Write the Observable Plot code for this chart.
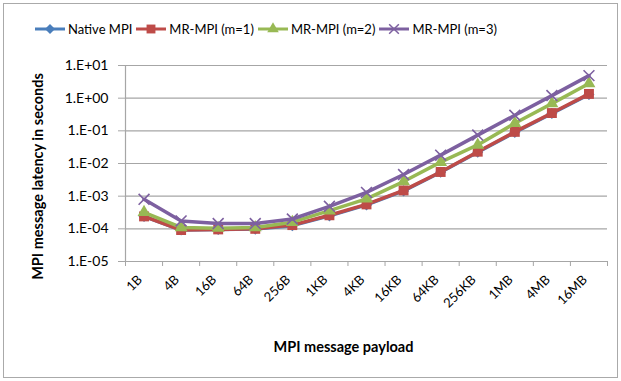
<!DOCTYPE html>
<html>
<head>
<meta charset="utf-8">
<script src="https://cdn.jsdelivr.net/npm/d3@7"></script>
<script src="https://cdn.jsdelivr.net/npm/@observablehq/plot@0.6"></script>
<style>
  html, body { margin: 0; padding: 0; background: #fff; }
  #wrap { position: relative; width: 621px; height: 381px; font-family: Lato, "Liberation Sans", sans-serif; }
  #border { position: absolute; left: 3px; top: 3px; width: 615px; height: 375px; box-sizing: border-box; border: 1.5px solid #aaaaaa; }
  #legend { position: absolute; left: 35px; top: 21px; display: flex; align-items: center; font-size: 13px; color: #000; white-space: nowrap; }
  #legend .item { display: flex; align-items: center; margin-right: 4px; }
  #legend svg { margin-right: 3px; }
  #chart { position: absolute; left: 0; top: 50px; }
</style>
</head>
<body>
<div id="wrap">
  <div id="border"></div>
  <div id="legend"></div>
  <div id="chart"></div>
</div>
<script>
const categories = ["1B","4B","16B","64B","256B","1KB","4KB","16KB","64KB","256KB","1MB","4MB","16MB"];
const seriesNames = ["Native MPI","MR-MPI (m=1)","MR-MPI (m=2)","MR-MPI (m=3)"];
const nativeMPI = [2.4e-4, 9.2e-5, 9.5e-5, 9.8e-5, 1.25e-4, 2.5e-4, 5.4e-4, 1.45e-3, 5.4e-3, 2.2e-2, 0.09, 0.34, 1.3];
const mrMPI1    = [2.4e-4, 9.2e-5, 9.6e-5, 1.0e-4, 1.3e-4, 2.6e-4, 5.6e-4, 1.5e-3, 5.5e-3, 2.3e-2, 0.093, 0.35, 1.35];
const mrMPI2    = [3.2e-4, 1.1e-4, 1.05e-4, 1.1e-4, 1.6e-4, 3.6e-4, 8.3e-4, 2.8e-3, 1.1e-2, 3.7e-2, 0.17, 0.68, 2.8];
const mrMPI3    = [8.0e-4, 1.75e-4, 1.45e-4, 1.45e-4, 2.0e-4, 4.9e-4, 1.3e-3, 4.6e-3, 1.8e-2, 7.4e-2, 0.30, 1.2, 4.9];
const yTicks = [1e-5, 1e-4, 1e-3, 1e-2, 1e-1, 1e0, 1e1];
const colors = ["#4A7EBB", "#BE4B48", "#98B954", "#7D60A0"];
const symbols = ["diamond2", "square", "triangle", "times"];
const symbolR = [5, 5.6, 4.8, 5];

const seriesValues = [nativeMPI, mrMPI1, mrMPI2, mrMPI3];
const table = [];
seriesNames.forEach((s, k) => seriesValues[k].forEach((v, i) => table.push({series: s, k, i, cat: categories[i], v})));

const fmt = d => { const e = Math.round(Math.log10(d)); return "1.E" + (e < 0 ? "-" : "+") + String(Math.abs(e)).padStart(2, "0"); };

const marks = [
  Plot.gridY({ticks: yTicks, stroke: "#a6a6a6", strokeOpacity: 1, strokeWidth: 1.2}),
  Plot.axisY({ticks: yTicks, tickFormat: fmt, tickSize: 7, tickPadding: 10, stroke: "#a6a6a6", fill: "#000", fontSize: 14, label: null}),
  Plot.ruleX([-0.5], {stroke: "#a6a6a6", strokeWidth: 1.2}),
  Plot.axisX({ticks: d3.range(-0.5, categories.length, 1), tickFormat: () => "", tickSize: 5, stroke: "#a6a6a6", label: null}),
  Plot.axisX({ticks: d3.range(categories.length), tickFormat: i => categories[i], tickSize: 0, tickRotate: -45, tickPadding: 16, dx: -4, fontSize: 13, fill: "#000", label: null}),
  Plot.text(["MPI message latency in seconds"], {frameAnchor: "left", textAnchor: "middle", dx: -87, dy: 13, rotate: -90, fontSize: 14.5, fontWeight: "bold", fill: "#000"}),
  Plot.text(["MPI message payload"], {frameAnchor: "bottom", dx: -23, dy: 90, fontSize: 14.5, fontWeight: "bold", fill: "#000"})
];
seriesNames.forEach((s, k) => {
  const d = table.filter(r => r.k === k);
  marks.push(Plot.line(d, {x: "i", y: "v", stroke: colors[k], strokeWidth: 3.5}));
  const strokeSym = symbols[k] === "times";
  marks.push(Plot.dot(d, strokeSym
    ? {x: "i", y: "v", symbol: () => symbols[k], r: symbolR[k], stroke: colors[k], strokeWidth: 1.6, fill: "none"}
    : {x: "i", y: "v", symbol: () => symbols[k], r: symbolR[k], fill: colors[k], stroke: "none"}));
});

const chart = Plot.plot({
  width: 621,
  height: 331,
  marginTop: 15,
  marginBottom: 120,
  marginLeft: 125,
  marginRight: 14,
  style: {fontFamily: "Lato, 'Liberation Sans', sans-serif", background: "transparent", overflow: "visible"},
  x: {type: "linear", domain: [-0.5, categories.length - 0.5], axis: null},
  y: {type: "log", domain: [1e-5, 10], axis: null},
  symbol: {type: "identity"},
  marks
});
document.getElementById("chart").appendChild(chart);

// legend
const legend = d3.select("#legend");
seriesNames.forEach((s, k) => {
  const item = legend.append("div").attr("class", "item");
  const svg = item.append("svg").attr("width", 30).attr("height", 14);
  svg.append("line").attr("x1", 0).attr("x2", 30).attr("y1", 7).attr("y2", 7).attr("stroke", colors[k]).attr("stroke-width", 3);
  const symMap = {diamond2: d3.symbolDiamond2, square: d3.symbolSquare, triangle: d3.symbolTriangle, times: d3.symbolTimes};
  const size = Math.PI * symbolR[k] * symbolR[k] * 0.8;
  const p = svg.append("path").attr("transform", "translate(15,7)").attr("d", d3.symbol(symMap[symbols[k]], size)());
  if (symbols[k] === "times") p.attr("fill", "none").attr("stroke", colors[k]).attr("stroke-width", 1.5);
  else p.attr("fill", colors[k]);
  item.append("span").text(s);
});
</script>
</body>
</html>
